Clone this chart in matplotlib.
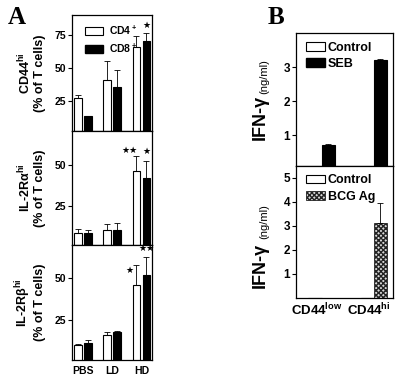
import matplotlib
matplotlib.use("Agg")
import matplotlib.pyplot as plt
import numpy as np
from matplotlib.patches import Patch

plt.rcParams['font.family'] = ['Liberation Sans', 'DejaVu Sans']
plt.rcParams['font.weight'] = 'bold'
plt.rcParams['mathtext.fontset'] = 'custom'
plt.rcParams['mathtext.rm'] = 'Liberation Sans'
plt.rcParams['mathtext.it'] = 'Liberation Sans:italic'
plt.rcParams['mathtext.bf'] = 'Liberation Sans:bold'
plt.rcParams['hatch.linewidth'] = 1.0

# ---------------- data ----------------
groups = ['PBS', 'LD', 'HD']
series_a = ['CD4$^{\\rm +}$', 'CD8$^{\\rm +}$']

cd44_cd4 = [27, 41, 66]
cd44_cd4_err = [2, 14, 8]
cd44_cd8 = [13, 35, 70]
cd44_cd8_err = [0.5, 13, 6]

il2ra_cd4 = [9, 11, 46]
il2ra_cd4_err = [2.5, 3.5, 9]
il2ra_cd8 = [9, 11, 42]
il2ra_cd8_err = [2, 4, 10]

il2rb_cd4 = [10, 16, 46]
il2rb_cd4_err = [0.5, 2, 12]
il2rb_cd8 = [11, 18, 52]
il2rb_cd8_err = [2, 0.5, 11]

# significance marks per panel: (series index, group index, label, dx, dy)
stars_cd44 = [(1, 2, '★', 0.0, 3.0)]
stars_il2ra = [(0, 2, '★★', -0.25, 0.5), (1, 2, '★', 0.0, 3.0)]
stars_il2rb = [(0, 2, '★', -0.25, -6.0), (1, 2, '★★', 0.0, 2.0)]

cells_b = ['CD44$^{\\rm low}$', 'CD44$^{\\rm hi}$']
seb_control = [0, 0]
seb_values = [0.72, 3.22]
seb_err = [0.03, 0.02]
bcg_control = [0, 0]
bcg_values = [0, 3.09]
bcg_err = [0, 0.87]

fig = plt.figure(figsize=(4.0, 3.79), dpi=100)

# ---------------- Panel A ----------------
L, W = 0.18, 0.20
axA1 = fig.add_axes([L, 0.6544, W, 0.3060])
axA2 = fig.add_axes([L, 0.3536, W, 0.3008])
axA3 = fig.add_axes([L, 0.0501, W, 0.3035])

x = np.arange(len(groups))
bw, off = 0.26, 0.17
panelsA = [
    (axA1, cd44_cd4, cd44_cd4_err, cd44_cd8, cd44_cd8_err, (2, 90), [25, 50, 75],
     'CD44$^{\\rm hi}$\n(% of T cells)', stars_cd44),
    (axA2, il2ra_cd4, il2ra_cd4_err, il2ra_cd8, il2ra_cd8_err, (2, 70), [25, 50],
     'IL-2Rα$^{\\rm hi}$\n(% of T cells)', stars_il2ra),
    (axA3, il2rb_cd4, il2rb_cd4_err, il2rb_cd8, il2rb_cd8_err, (1, 70), [25, 50],
     'IL-2Rβ$^{\\rm hi}$\n(% of T cells)', stars_il2rb),
]
for ax, v4, e4, v8, e8, yl, yt, lab, stars in panelsA:
    ax.bar(x - off, v4, bw, color='white', edgecolor='black', linewidth=0.8, zorder=2)
    ax.bar(x + off, v8, bw, color='black', edgecolor='black', linewidth=0.8, zorder=2)
    ax.errorbar(x - off, v4, yerr=[np.zeros(3), e4], fmt='none', ecolor='black',
                elinewidth=0.6, capsize=2, capthick=0.6, zorder=1)
    ax.errorbar(x + off, v8, yerr=[np.zeros(3), e8], fmt='none', ecolor='black',
                elinewidth=0.6, capsize=2, capthick=0.6, zorder=1)
    ax.set_xlim(-0.37, 2.36)
    ax.set_ylim(*yl)
    ax.set_yticks(yt)
    ax.tick_params(axis='y', labelsize=7.5, length=3, width=0.8, pad=1)
    ax.set_ylabel(lab, fontsize=9, fontweight='bold', linespacing=1.05)
    ax.yaxis.set_label_coords(-0.33, 0.5)
    for s in ax.spines.values():
        s.set_linewidth(0.9)
    vals = [(v4, e4), (v8, e8)]
    for si, gi, txt, dx, dy in stars:
        v, e = vals[si]
        xs = x[gi] + (off if si else -off) + dx
        ax.text(xs, v[gi] + e[gi] + dy, txt, ha='center', va='bottom',
                fontsize=6.5, family='DejaVu Sans')
    if ax is axA3:
        ax.set_xticks(x)
        ax.set_xticklabels(groups, fontsize=7.5, fontweight='bold')
        ax.tick_params(axis='x', length=0, pad=4)
    else:
        ax.set_xticks([])

axA1.legend(handles=[Patch(facecolor='white', edgecolor='black', linewidth=0.8),
                     Patch(facecolor='black', edgecolor='black')],
            labels=series_a, loc='upper left', bbox_to_anchor=(0.06, 1.0),
            frameon=False, fontsize=7.5, handlelength=1.75, handleheight=0.7,
            handletextpad=0.5, labelspacing=0.45, borderaxespad=0.4)

# ---------------- Panel B ----------------
LB, WB = 0.739, 0.243
axB1 = fig.add_axes([LB, 0.5628, WB, 0.3500])
axB2 = fig.add_axes([LB, 0.2150, WB, 0.3478])
xb = np.arange(len(cells_b))
bwb, offb = 0.254, 0.127

axB1.bar(xb - offb, seb_control, bwb, color='white', edgecolor='black', linewidth=0.8)
axB1.bar(xb + offb, seb_values, bwb, color='black', edgecolor='black', linewidth=0.8)
axB1.errorbar(xb + offb, seb_values, yerr=[np.zeros(2), seb_err], fmt='none',
              ecolor='black', elinewidth=0.6, capsize=2.5, capthick=0.6)
axB1.set_ylim(0.1, 4.0)
axB1.set_yticks([1, 2, 3])
axB1.set_xticks([])

bcg_mask = np.array(bcg_values) > 0
axB2.bar(xb - offb, bcg_control, bwb, color='white', edgecolor='black', linewidth=0.8)
axB2.bar(xb[bcg_mask] + offb, np.array(bcg_values)[bcg_mask], bwb, color='#d8d8d8',
         edgecolor='#222222', linewidth=0.6, hatch='xxxxxxx')
axB2.errorbar(xb[bcg_mask] + offb, np.array(bcg_values)[bcg_mask],
              yerr=[np.zeros(bcg_mask.sum()), np.array(bcg_err)[bcg_mask]], fmt='none',
              ecolor='black', elinewidth=0.6, capsize=2.5, capthick=0.6)
axB2.set_ylim(0, 5.5)
axB2.set_yticks([1, 2, 3, 4, 5])
axB2.set_xticks(xb - 0.1)
axB2.set_xticklabels(cells_b, fontsize=9.5, fontweight='bold')
axB2.tick_params(axis='x', length=0, pad=3)

for ax, yi, yn in ((axB1, 0.363, 0.675), (axB2, 0.247, 0.574)):
    ax.set_xlim(-0.497, 1.363)
    ax.tick_params(axis='y', labelsize=8.5, length=3, width=0.8, pad=1)
    for s in ax.spines.values():
        s.set_linewidth(0.9)
    ax.text(-0.36, yi, 'IFN-γ', transform=ax.transAxes, rotation=90,
            ha='center', va='center', fontsize=13, fontweight='bold')
    ax.text(-0.325, yn, '(ng/ml)', transform=ax.transAxes, rotation=90,
            ha='center', va='center', fontsize=8, fontweight='normal')

axB1.legend(handles=[Patch(facecolor='white', edgecolor='black', linewidth=0.8),
                     Patch(facecolor='black', edgecolor='black')],
            labels=['Control', 'SEB'], loc='upper left', bbox_to_anchor=(0.02, 1.0),
            frameon=False, fontsize=9, handlelength=1.5, handleheight=0.7,
            handletextpad=0.2, labelspacing=0.35, borderaxespad=0.3)
axB2.legend(handles=[Patch(facecolor='white', edgecolor='black', linewidth=0.8),
                     Patch(facecolor='#d8d8d8', edgecolor='#222222', linewidth=0.6,
                           hatch='xxxxxxx')],
            labels=['Control', 'BCG Ag'], loc='upper left', bbox_to_anchor=(0.02, 1.0),
            frameon=False, fontsize=9, handlelength=1.5, handleheight=0.7,
            handletextpad=0.2, labelspacing=0.35, borderaxespad=0.3)

fig.text(0.02, 0.985, 'A', fontsize=18, fontweight='bold', family='Liberation Serif',
         ha='left', va='top')
fig.text(0.668, 0.985, 'B', fontsize=18, fontweight='bold', family='Liberation Serif',
         ha='left', va='top')

fig.savefig('out.png', dpi=100)
